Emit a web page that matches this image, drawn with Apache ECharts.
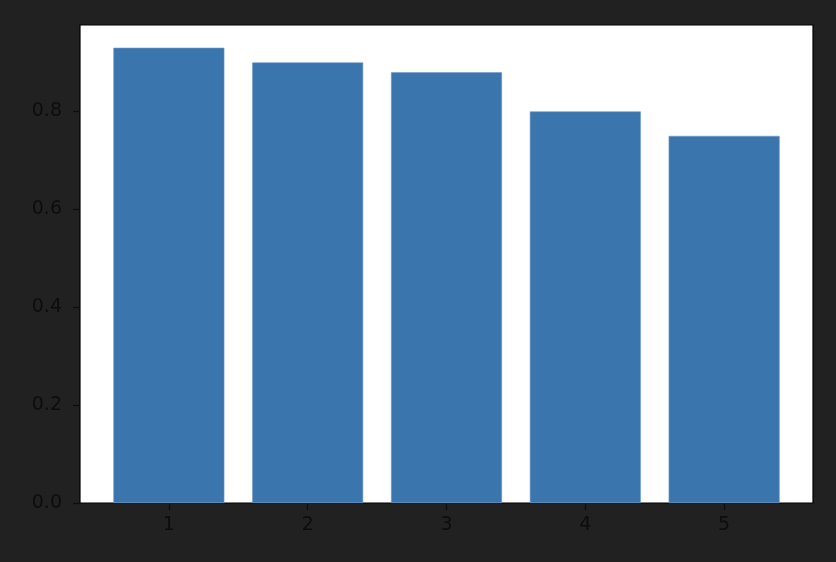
<!DOCTYPE html>
<html><head><meta charset="utf-8">
<script src="https://cdn.jsdelivr.net/npm/echarts@6/dist/echarts.min.js"></script>
<style>html,body{margin:0;padding:0;background:#212121;}#c{width:836px;height:562px;}</style>
</head><body><div id="c"></div>
<script>
const categories = [1, 2, 3, 4, 5];
const values = [0.93, 0.90, 0.88, 0.80, 0.75];
const yTicks = [0, 0.2, 0.4, 0.6, 0.8];

const chart = echarts.init(document.getElementById('c'), null, {renderer: 'canvas'});
const textStyle = {color: '#0d0d0d', fontFamily: 'DejaVu Sans', fontSize: 19};
chart.setOption({
  backgroundColor: '#212121',
  animation: false,
  grid: {left: 80, top: 25, right: 23, bottom: 59, show: true, backgroundColor: '#ffffff', borderColor: '#000', borderWidth: 1.2},
  xAxis: {
    type: 'value', min: 0.36, max: 5.64,
    axisLine: {show: false},
    splitLine: {show: false},
    axisTick: {show: true, length: 7, lineStyle: {color: '#0d0d0d', width: 1.2}, customValues: categories},
    axisLabel: Object.assign({margin: 13, customValues: categories, formatter: v => String(v)}, textStyle)
  },
  yAxis: {
    type: 'value', min: 0, max: 0.9765,
    axisLine: {show: false},
    splitLine: {show: false},
    axisTick: {show: true, length: 7, lineStyle: {color: '#0d0d0d', width: 1.2}, customValues: yTicks},
    axisLabel: Object.assign({margin: 18, customValues: yTicks, formatter: v => v.toFixed(1)}, textStyle)
  },
  series: [{
    type: 'bar',
    data: categories.map((c, i) => [c, values[i]]),
    barWidth: 111,
    itemStyle: {color: '#3b75ae', borderColor: '#6f9acb', borderWidth: 0.6}
  }]
});
</script></body></html>
